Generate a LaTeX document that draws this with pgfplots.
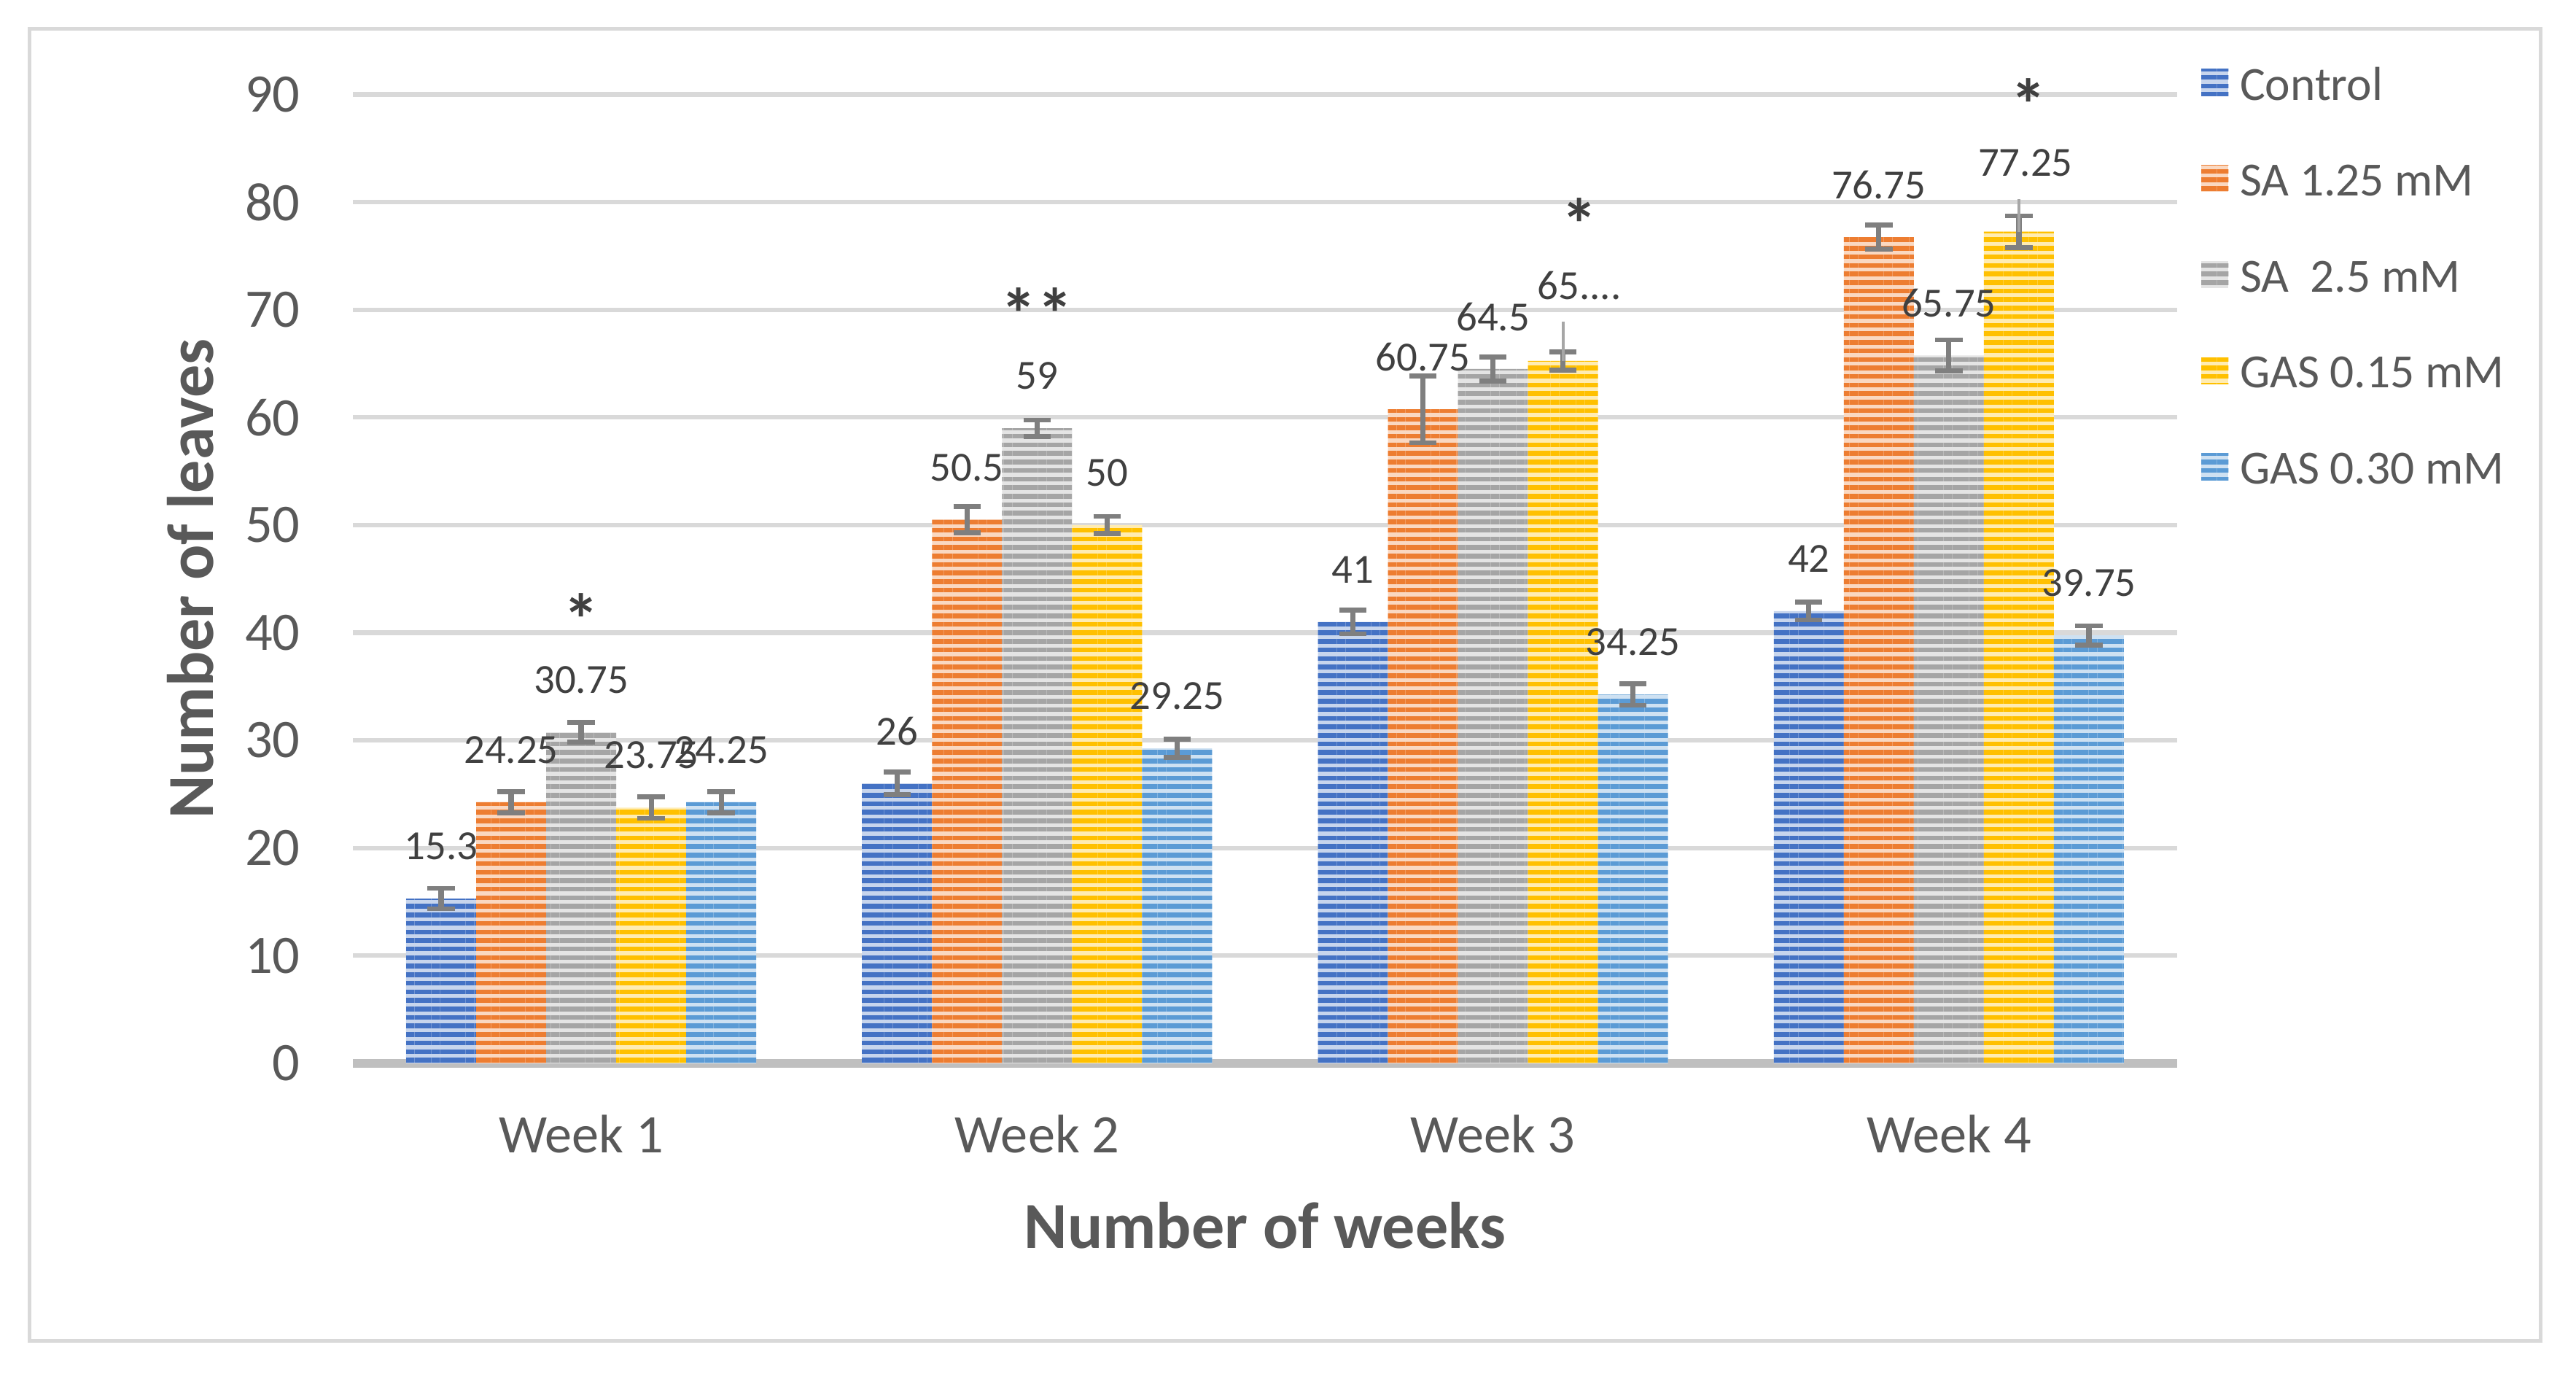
\documentclass[border=0pt]{standalone}
\usepackage{fontspec}
\setmainfont{Carlito}
\usepackage{pgfplots}
\usepackage{pgfplotstable}
\pgfplotsset{compat=1.18}
\usetikzlibrary{patterns.meta}

\definecolor{cA}{HTML}{4472C4}
\definecolor{cB}{HTML}{ED7D31}
\definecolor{cC}{HTML}{A5A5A5}
\definecolor{cD}{HTML}{FFC000}
\definecolor{cE}{HTML}{5B9BD5}
\definecolor{errc}{HTML}{7F7F7F}
\definecolor{lblc}{HTML}{404040}
\definecolor{txtc}{HTML}{595959}
\definecolor{gridc}{HTML}{D9D9D9}
\definecolor{axc}{HTML}{BFBFBF}
\definecolor{leadc}{HTML}{A6A6A6}

% x = week index, err = error bar, lab = data label text, off/xoff = label shift (pt)
\pgfplotstableread{
x y err lab off xoff
0 15.3 0.95 15.3 15.9 0
1 26 1.05 26 15.9 0
2 41 1.1 41 15.9 0
3 42 0.82 42 15.9 0
}\tctrl
\pgfplotstableread{
x y err lab off xoff
0 24.25 1.0 24.25 15.9 0
1 50.5 1.2 50.5 15.9 0
2 60.75 3.1 60.75 15.9 0
3 76.75 1.1 76.75 15.9 0
}\tsaA
\pgfplotstableread{
x y err lab off xoff
0 30.75 0.9 30.75 15.9 0
1 59 0.75 59 15.9 0
2 64.5 1.13 64.5 15.9 0
3 65.75 1.45 65.75 15.9 0
}\tsaB
\pgfplotstableread{
x y err lab off xoff
0 23.75 1.0 23.75 15.9 0
1 50 0.8 50 15.9 0
2 65.25 0.85 65.... 23.0 5
3 77.25 1.47 77.25 21.0 2
}\tgasA
\pgfplotstableread{
x y err lab off xoff
0 24.25 1.0 24.25 15.9 0
1 29.25 0.85 29.25 15.9 0
2 34.25 1.0 34.25 15.9 0
3 39.75 0.9 39.75 15.9 0
}\tgasB

\pgfplotsset{
  stripe/.style={
    draw=none,
    fill=#1!30!white,
    postaction={pattern={Lines[angle=0,distance=2.6pt,line width=1.45pt]}, pattern color=#1},
  },
}

\begin{document}
\begin{tikzpicture}
\begin{axis}[
    at={(107.5pt,95.25pt)}, anchor=south west,
    scale only axis,
    width=555pt, height=294.75pt,
    clip=false,
    ybar=0pt,
    bar width=0.1536,
    xmin=-0.5, xmax=3.5,
    ymin=0, ymax=90,
    xtick={0,1,2,3},
    xticklabels={Week 1,Week 2,Week 3,Week 4},
    ytick={0,10,...,90},
    major tick length=0pt,
    axis line style={draw=none},
    ymajorgrids,
    grid style={color=gridc, line width=1.4pt},
    extra y ticks={0},
    extra y tick labels={},
    extra y tick style={grid style={color=axc, line width=2.6pt}},
    /pgf/number format/assume math mode=true,
    ticklabel style={font=\fontsize{16.5}{19}\selectfont, color=txtc},
    xticklabel style={anchor=center, yshift=-21.5pt},
    yticklabel style={anchor=east, inner xsep=0pt, xshift=-16pt},
    xlabel={Number of weeks},
    ylabel={Number of leaves},
    label style={font=\bfseries\fontsize{20}{24}\selectfont, color=txtc},
    xlabel style={at={(axis description cs:0.5,-0.1674)}, anchor=center},
    ylabel style={at={(axis description cs:-0.0892,0.5)}, anchor=center},
    error bars/y dir=both,
    error bars/y explicit,
    error bars/error bar style={color=errc, line width=1.6pt},
    error bars/error mark options={rotate=90, color=errc, mark size=4.15pt, line width=1.5pt},
    point meta=explicit symbolic,
    nodes near coords,
    visualization depends on={\thisrow{off} \as \loff},
    visualization depends on={\thisrow{xoff} \as \lxoff},
    every node near coord/.append style={font=\fontsize{12.6}{15}\selectfont, color=lblc,
        anchor=center, yshift=\loff pt, xshift=\lxoff pt},
    legend style={at={(1.01306,1.0307)}, anchor=north west, draw=none, fill=none,
        inner sep=0pt, row sep=18.7pt, column sep=3.5pt,
        font=\fontsize{14.5}{17}\selectfont, text=txtc,
        nodes={inner sep=0pt, text height=10.5pt, text depth=0pt}},
    legend cell align=left,
    legend image code/.code={\path[#1] (0pt,-4.1pt) rectangle (8.25pt,4.1pt);},
]
\addplot[stripe=cA] table[x=x, y=y, y error=err, meta=lab] {\tctrl};
\addlegendentry{Control}
\addplot[stripe=cB] table[x=x, y=y, y error=err, meta=lab] {\tsaA};
\addlegendentry{SA 1.25 mM}
\addplot[stripe=cC] table[x=x, y=y, y error=err, meta=lab] {\tsaB};
\addlegendentry{SA\ \ 2.5 mM}
\addplot[stripe=cD] table[x=x, y=y, y error=err, meta=lab] {\tgasA};
\addlegendentry{GAS 0.15 mM}
\addplot[stripe=cE] table[x=x, y=y, y error=err, meta=lab] {\tgasB};
\addlegendentry{GAS 0.30 mM}

% label leader lines
\draw[leadc, line width=0.9pt] (axis cs:2.1536,65.25) -- (axis cs:2.1536,68.9);
\draw[leadc, line width=0.9pt] (axis cs:3.1536,77.25) -- (axis cs:3.1536,80.3);

% significance marks
\begin{scope}[every node/.style={font=\bfseries\fontsize{22}{24}\selectfont, color=lblc, anchor=base, yshift=-11.6pt, inner sep=0pt}]
\node at (axis cs:0,42.4) {*};
\node at (axis cs:1,70.8) {**};
\node at (axis cs:2.19,79.1) {*};
\node at (axis cs:3.175,90.2) {*};
\end{scope}
\end{axis}
\draw[gridc, line width=1.2pt] (9pt,10.75pt) rectangle (773.25pt,410pt);
\path (0,0) rectangle (784pt,418.75pt);
\end{tikzpicture}
\end{document}
